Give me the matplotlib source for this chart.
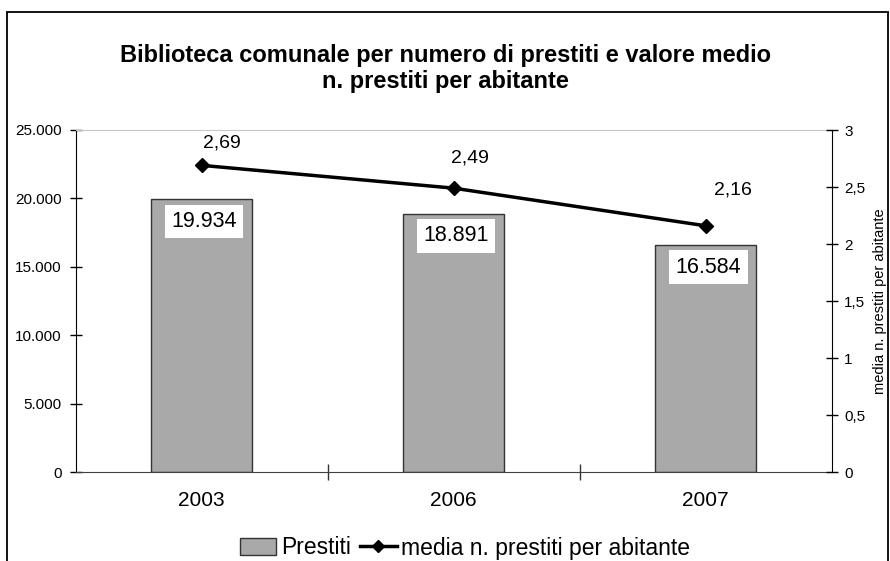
import matplotlib
matplotlib.use("Agg")
import matplotlib.pyplot as plt
from matplotlib.patches import Rectangle
from matplotlib.lines import Line2D
from matplotlib.ticker import FuncFormatter, MultipleLocator, FixedLocator

plt.rcParams['font.family'] = ['Liberation Sans', 'DejaVu Sans']

years = ["2003", "2006", "2007"]
prestiti = [19934, 18891, 16584]
media = [2.69, 2.49, 2.16]
bar_labels = ["19.934", "18.891", "16.584"]
line_labels = ["2,69", "2,49", "2,16"]
title = "Biblioteca comunale per numero di prestiti e valore medio\nn. prestiti per abitante"
y2_title = "media n. prestiti per abitante"
legend_labels = ["Prestiti", "media n. prestiti per abitante"]

# label offsets (style, in points)
line_label_offsets = [(15, 16), (11.5, 22), (19.5, 26)]

fig = plt.figure(figsize=(8.9, 5.61), dpi=100)
fig.patches.append(Rectangle((7/890, -0.1), (888-7)/890, 1.1 - 12/561,
                             transform=fig.transFigure, fill=False,
                             edgecolor='black', linewidth=1.3))

ax = fig.add_axes([75.5/890, 89/561, 756/890, 342/561])
x = list(range(len(years)))
bars = ax.bar(x, prestiti, width=0.4, color='#a9a9a9', edgecolor='#333333',
              linewidth=1.0, zorder=2)
ax.set_xlim(-0.5, 2.5)
ax.set_ylim(0, 25000)
ax.yaxis.set_major_locator(MultipleLocator(5000))
ax.yaxis.set_major_formatter(FuncFormatter(lambda v, p: f"{int(v):,}".replace(",", ".")))
ax.set_xticks(x)
ax.set_xticklabels(years, fontsize=15)
ax.xaxis.set_minor_locator(FixedLocator([0.5, 1.5]))
ax.tick_params(axis='x', which='major', length=0, pad=14)
ax.tick_params(axis='x', which='minor', direction='inout', length=12, width=1, color='#333333')
ax.tick_params(axis='y', direction='inout', length=8, width=1, labelsize=11, pad=6)
ax.spines['top'].set_color('#c8c8c8')
ax.spines['right'].set_visible(False)
ax.spines['left'].set_color('black')
ax.spines['bottom'].set_color('#404040')

for xi, v, lab in zip(x, prestiti, bar_labels):
    ax.annotate(lab, (xi, v), xytext=(2, -16), textcoords='offset points',
                ha='center', va='center', fontsize=15.5, zorder=5,
                bbox=dict(boxstyle='square,pad=0.3', facecolor='white', edgecolor='none'))

ax2 = ax.twinx()
ax2.set_ylim(0, 3)
ax2.yaxis.set_major_locator(MultipleLocator(0.5))
ax2.yaxis.set_major_formatter(FuncFormatter(lambda v, p: (f"{v:g}").replace(".", ",")))
ax2.plot(x, media, color='black', linewidth=2.5, marker='D', markersize=7, zorder=4)
ax2.tick_params(axis='y', direction='inout', length=8, width=1, labelsize=11, pad=5)
for sp in ['top', 'left', 'bottom']:
    ax2.spines[sp].set_visible(False)
ax2.spines['right'].set_color('black')
ax2.set_ylabel(y2_title, fontsize=10.5, labelpad=6)
for xi, v, lab, off in zip(x, media, line_labels, line_label_offsets):
    ax2.annotate(lab, (xi, v), xytext=off, textcoords='offset points',
                 ha='center', va='center', fontsize=14)

fig.text(0.5, 0.878, title, ha='center', va='center', fontsize=17,
         fontweight='bold', linespacing=1.2)

handles = [Rectangle((0, 0), 1, 1, facecolor='#a9a9a9', edgecolor='#333333'),
           Line2D([], [], color='black', linewidth=2.5, marker='D', markersize=6)]
fig.legend(handles, legend_labels, loc='center', bbox_to_anchor=(465/890, 13/561),
           ncol=2, frameon=False, fontsize=16.5, handlelength=1.6,
           handletextpad=0.2, columnspacing=0.4)

fig.savefig("out.png", dpi=100)
